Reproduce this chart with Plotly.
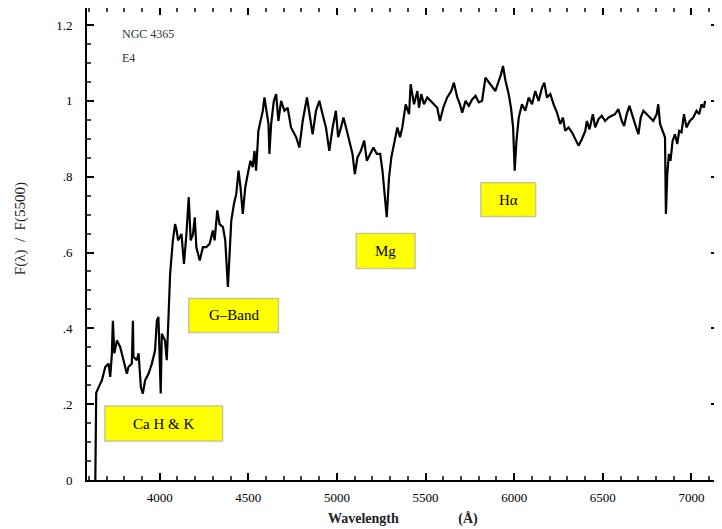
import plotly.graph_objects as go

# Spectrum of NGC 4365 (E4): wavelength (Angstrom) and normalised flux F(lambda)/F(5500)
wavelength = [
    3637, 3642, 3656, 3674, 3693, 3712, 3721, 3730, 3736, 3744, 3759, 3777, 3796, 3815, 3824, 3843,
    3849, 3852, 3871, 3881, 3894, 3905, 3918, 3937, 3956, 3974, 3984, 3993, 4006, 4012, 4030,
    4040, 4049, 4059, 4074, 4087, 4095, 4104, 4123, 4137, 4151, 4164, 4175, 4188, 4198, 4207,
    4226, 4244, 4263, 4282, 4300, 4310, 4325, 4338, 4357, 4370, 4385, 4394, 4404, 4419, 4432,
    4445, 4456, 4469, 4483, 4497, 4512, 4525, 4535, 4544, 4557, 4569, 4582, 4591, 4601, 4614,
    4619, 4629, 4644, 4657, 4670, 4685, 4704, 4722, 4741, 4770, 4788, 4807, 4831, 4850, 4863,
    4882, 4901, 4919, 4938, 4957, 4976, 4994, 5007, 5023, 5037, 5056, 5075, 5088, 5101, 5116,
    5135, 5154, 5169, 5188, 5206, 5225, 5244, 5257, 5270, 5281, 5294, 5307, 5322, 5341, 5356,
    5369, 5388, 5407, 5416, 5435, 5454, 5463, 5476, 5491, 5510, 5529, 5547, 5566, 5581, 5600,
    5622, 5645, 5660, 5679, 5694, 5707, 5726, 5744, 5763, 5782, 5801, 5819, 5838, 5857, 5876,
    5894, 5913, 5926, 5937, 5951, 5969, 5982, 5994, 6003, 6013, 6026, 6044, 6063, 6082, 6101,
    6119, 6138, 6157, 6170, 6185, 6204, 6223, 6241, 6260, 6275, 6288, 6307, 6326, 6344, 6363,
    6382, 6401, 6410, 6425, 6444, 6457, 6476, 6494, 6513, 6532, 6551, 6569, 6588, 6607, 6620,
    6635, 6650, 6669, 6688, 6701, 6714, 6729, 6748, 6766, 6785, 6804, 6813, 6823, 6837, 6851,
    6856, 6864, 6873, 6882, 6894, 6907, 6920, 6931, 6944, 6958, 6972, 6991, 7010, 7029, 7044,
    7057, 7070, 7077,
]
flux = [
    0.00, 0.23, 0.245, 0.263, 0.298, 0.307, 0.272, 0.33, 0.42, 0.334, 0.368, 0.351, 0.316, 0.28, 0.298, 0.307,
    0.42, 0.325, 0.316, 0.334, 0.245, 0.228, 0.263, 0.28, 0.307, 0.342, 0.42, 0.43, 0.228, 0.386, 0.368,
    0.316, 0.42, 0.544, 0.63, 0.675, 0.66, 0.632, 0.649, 0.57, 0.649, 0.746, 0.632, 0.649, 0.693, 0.614,
    0.579, 0.614, 0.614, 0.623, 0.658, 0.632, 0.711, 0.675, 0.667, 0.632, 0.509, 0.614, 0.684, 0.728, 0.754,
    0.816, 0.772, 0.702, 0.772, 0.807, 0.842, 0.825, 0.868, 0.816, 0.921, 0.947, 0.974, 1.009, 0.974, 0.939,
    0.86, 0.939, 1.0, 1.018, 0.947, 1.0, 0.974, 0.982, 0.93, 0.904, 0.877, 0.947, 1.009, 0.947, 0.912,
    0.974, 1.0, 0.965, 0.93, 0.868, 0.93, 0.974, 0.904, 0.93, 0.956, 0.921, 0.886, 0.86, 0.807, 0.851,
    0.868, 0.895, 0.842, 0.86, 0.877, 0.86, 0.86, 0.816, 0.754, 0.693, 0.798, 0.851, 0.886, 0.93, 0.904,
    0.93, 0.991, 0.965, 1.044, 0.991, 1.026, 0.982, 1.018, 0.991, 1.009, 1.0, 0.991, 0.982, 0.947, 0.982,
    1.009, 1.026, 1.048, 1.009, 0.991, 0.969, 1.0, 0.987, 1.004, 1.013, 0.996, 1.0, 1.061, 1.048, 1.035,
    1.026, 1.053, 1.07, 1.092, 1.053, 1.018, 0.982, 0.93, 0.816, 0.895, 0.956, 0.991, 0.974, 1.009, 0.991,
    1.026, 1.0, 1.035, 1.048, 1.009, 1.018, 0.99, 0.97, 0.939, 0.956, 0.921, 0.93, 0.917, 0.899, 0.882,
    0.899, 0.921, 0.947, 0.925, 0.965, 0.93, 0.952, 0.961, 0.947, 0.956, 0.961, 0.965, 0.978, 0.947, 0.934,
    0.965, 0.987, 0.956, 0.93, 0.912, 0.956, 0.974, 0.965, 0.956, 0.947, 0.965, 0.991, 0.939, 0.921, 0.904,
    0.702, 0.807, 0.86, 0.842, 0.895, 0.912, 0.886, 0.921, 0.917, 0.965, 0.93, 0.947, 0.956, 0.974, 0.965,
    0.991, 0.982, 1.0,
]

# Feature labels and their boxes (x0, x1, y0, y1 in data units)
feature_labels = ["Ca H &amp; K", "G\u2013Band", "Mg", "H\u03b1"]
box_x0 = [3691, 4164, 5109, 5812]
box_x1 = [4355, 4670, 5441, 6121]
box_y0 = [0.103, 0.389, 0.558, 0.695]
box_y1 = [0.195, 0.479, 0.650, 0.784]

x_tick_vals = [4000, 4500, 5000, 5500, 6000, 6500, 7000]
x_tick_text = ["4000", "4500", "5000", "5500", "6000", "6500", "7000"]
y_tick_vals = [0, 0.2, 0.4, 0.6, 0.8, 1.0, 1.2]
y_tick_text = ["0", ".2", ".4", ".6", ".8", "1", "1.2"]

serif = "Liberation Serif, DejaVu Serif, serif"

fig = go.Figure()
fig.add_trace(go.Scatter(x=wavelength, y=flux, mode="lines",
                         line=dict(color="black", width=2.2), showlegend=False,
                         hoverinfo="skip"))

for lab, x0, x1, y0, y1 in zip(feature_labels, box_x0, box_x1, box_y0, box_y1):
    fig.add_shape(type="rect", xref="x", yref="y", x0=x0, x1=x1, y0=y0, y1=y1,
                  fillcolor="#ffff00", line=dict(color="#c9c98a", width=1.5), layer="above")
    fig.add_annotation(x=(x0 + x1) / 2, y=(y0 + y1) / 2, xref="x", yref="y",
                       text=lab, showarrow=False,
                       font=dict(family=serif, size=15, color="black"))

fig.add_annotation(x=3776, y=1.176, xref="x", yref="y", text="NGC 4365", showarrow=False,
                   xanchor="left", font=dict(family=serif, size=12, color="#333"))
fig.add_annotation(x=3776, y=1.113, xref="x", yref="y", text="E4", showarrow=False,
                   xanchor="left", font=dict(family=serif, size=12, color="#333"))

# axis titles as annotations for exact placement
nb = "&nbsp;"
fig.add_annotation(x=0.5, y=-0.082, xref="paper", yref="paper", yanchor="middle",
                   text="<b>Wavelength" + nb * 17 + "(\u00c5)</b>",
                   showarrow=False, xshift=0, font=dict(family=serif, size=14, color="#222"))
fig.add_annotation(x=-0.105, y=0.533, xref="paper", yref="paper", xanchor="center",
                   text="F(\u03bb)" + nb * 2 + "/" + nb * 2 + "F(5500)", textangle=-90,
                   showarrow=False, font=dict(family=serif, size=15, color="#222"))

# the page body adds an 8px offset; the figure is sized so the plot lands where the reference has it
fig.update_layout(
    width=714, height=521,
    margin=dict(l=79, r=4, t=0, b=49),
    paper_bgcolor="white", plot_bgcolor="white",
    font=dict(family=serif, size=13, color="black"),
    xaxis=dict(range=[3590, 7150], tickvals=x_tick_vals, ticktext=x_tick_text,
               ticks="inside", ticklen=7, tickwidth=1.5, tickcolor="black",
               showline=True, linecolor="black", linewidth=2, mirror="ticks",
               showgrid=False, zeroline=False, automargin=False, ticklabelstandoff=4,
               minor=dict(dtick=100, tick0=0, ticks="inside", ticklen=4, tickcolor="#444", showgrid=False),
               tickfont=dict(family=serif, size=13)),
    yaxis=dict(range=[0, 1.245], tickvals=y_tick_vals, ticktext=y_tick_text,
               ticks="inside", ticklen=7, tickwidth=1.5, tickcolor="black",
               showline=True, linecolor="black", linewidth=2, mirror="ticks",
               showgrid=False, zeroline=False, automargin=False, ticklabelstandoff=10,
               minor=dict(dtick=0.05, tick0=0, ticks="inside", ticklen=4, tickcolor="#444", showgrid=False),
               tickfont=dict(family=serif, size=13)),
)

fig.write_html("out.html")
